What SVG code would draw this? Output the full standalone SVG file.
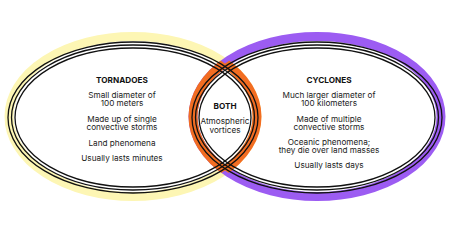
<svg xmlns="http://www.w3.org/2000/svg" width="450" height="239" viewBox="0 0 450 239">
<style>
.band{fill:none;stroke-width:9}
.ln{fill:none;stroke:#111;stroke-width:1.3}
.t{font-family:Inter,"Liberation Sans",sans-serif;font-size:8.2px;fill:#222;text-anchor:middle}
.h{font-weight:700;fill:#111}
</style>
<defs>
<clipPath id="inR"><ellipse cx="317" cy="117" rx="124" ry="80"/></clipPath>
<clipPath id="inL"><ellipse cx="133" cy="117" rx="124" ry="80"/></clipPath>
</defs>
<rect width="450" height="239" fill="#fff"/>
<g id="connectors">
<ellipse class="band" cx="133" cy="116.5" rx="124" ry="80" stroke="#fdf6b4"/>
<ellipse class="band" cx="317" cy="116.5" rx="124" ry="80" stroke="#9c5cf2"/>
<ellipse class="band" cx="133" cy="116.5" rx="124" ry="80" stroke="#f26d22" stroke-width="12" clip-path="url(#inR)"/>
<ellipse class="band" cx="317" cy="116.5" rx="124" ry="80" stroke="#f26d22" stroke-width="12" clip-path="url(#inL)"/>
<ellipse class="ln" cx="133" cy="117.5" rx="125" ry="75.5"/>
<ellipse class="ln" cx="133" cy="117.5" rx="121.5" ry="72.5"/>
<ellipse class="ln" cx="133" cy="117.5" rx="118" ry="69.5"/>
<ellipse class="ln" cx="317" cy="117.5" rx="125" ry="75.5"/>
<ellipse class="ln" cx="317" cy="117.5" rx="121.5" ry="72.5"/>
<ellipse class="ln" cx="317" cy="117.5" rx="118" ry="69.5"/>
</g>
<g id="tornadoes">
<text class="t h" x="122" y="82.5">TORNADOES</text>
<text class="t" x="122" y="97.6">Small diameter of</text>
<text class="t" x="122" y="106.2">100 meters</text>
<text class="t" x="122" y="121.6">Made up of single</text>
<text class="t" x="122" y="130.2">convective storms</text>
<text class="t" x="122" y="145.8">Land phenomena</text>
<text class="t" x="122" y="160.8">Usually lasts minutes</text>
</g>
<g id="cyclones">
<text class="t h" x="329" y="82.5">CYCLONES</text>
<text class="t" x="329" y="97.6">Much larger diameter of</text>
<text class="t" x="329" y="106.2">100 kilometers</text>
<text class="t" x="329" y="121.6">Made of multiple</text>
<text class="t" x="329" y="130.2">convective storms</text>
<text class="t" x="329" y="144.8">Oceanic phenomena;</text>
<text class="t" x="329" y="153.4">they die over land masses</text>
<text class="t" x="329" y="168">Usually lasts days</text>
</g>
<g id="both">
<text class="t h" x="225" y="108.5">BOTH</text>
<text class="t" x="225" y="124">Atmospheric</text>
<text class="t" x="225" y="132.6">vortices</text>
</g>
</svg>
